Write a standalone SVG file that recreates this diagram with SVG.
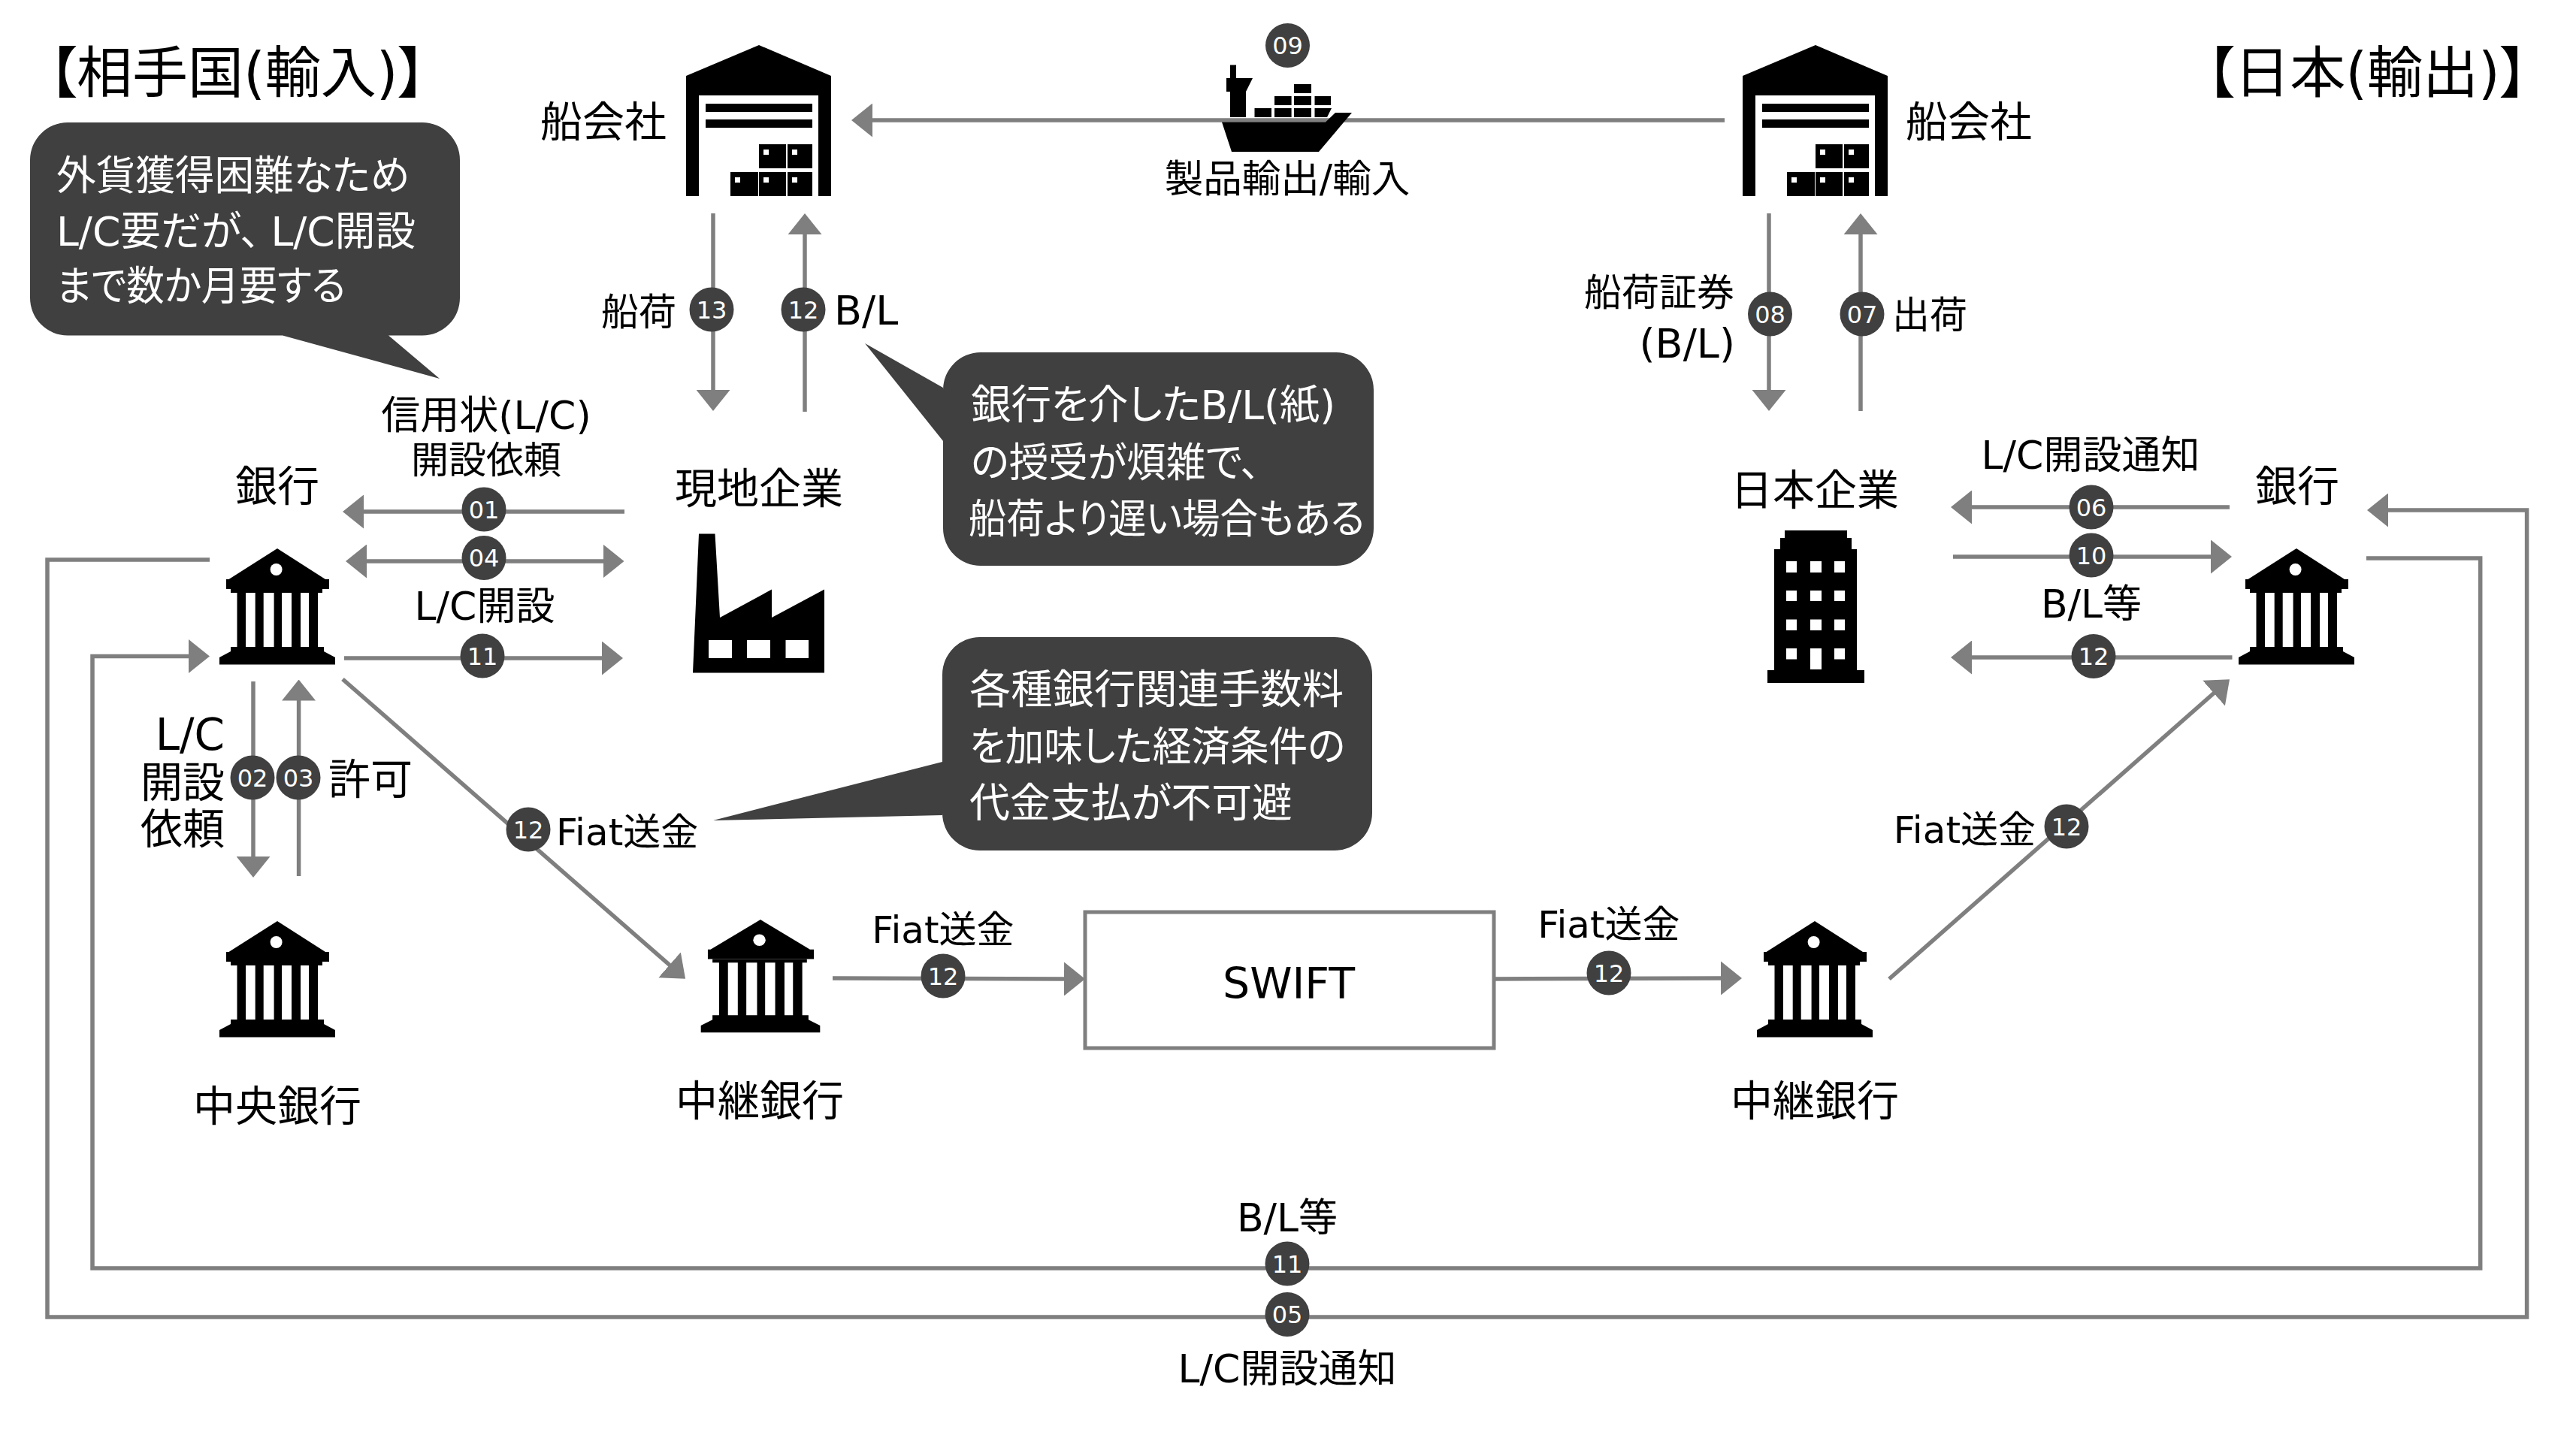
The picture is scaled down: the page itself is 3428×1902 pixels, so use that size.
<svg xmlns="http://www.w3.org/2000/svg" xmlns:xlink="http://www.w3.org/1999/xlink" width="3428" height="1902" viewBox="0 0 3428 1902">
<style>
text{font-family:"DejaVu Sans","Noto Sans CJK JP",sans-serif;font-feature-settings:"palt";fill:#000}
.t50{font-size:50px}.t52{font-size:52px}.t515{font-size:51.5px}.t54{font-size:54px}.t56{font-size:56px}.t57{font-size:57px}.t58{font-size:58px}.t74{font-size:74px}
.m{text-anchor:middle}.e{text-anchor:end}
.w{fill:#fff;font-size:54px}
.b{fill:#404040}
.n{fill:#fff;font-size:32px;text-anchor:middle}
.c{fill:none;stroke:#7f7f7f;stroke-width:5.5;marker-end:url(#arr)}
.cb{fill:#404040}
.h{fill:#fff}
</style>
<defs>
<marker id="arr" markerUnits="userSpaceOnUse" markerWidth="28" markerHeight="45" viewBox="0 0 28 45" refX="4" refY="22.5" orient="auto-start-reverse"><path d="M0 0L28 22.5L0 45Z" fill="#7f7f7f"/></marker>
<g id="bank">
<path d="M0 0L64 41H69V54H-68V41H-64.5Z"/>
<circle class="h" cx="-1.4" cy="28" r="8"/>
<path d="M-62 54H60V59H-62ZM-53.5 59H-42V131H-53.5ZM-29.3 59H-18.3V131H-29.3ZM-4.4 59H6V131H-4.4ZM19 59H31V131H19ZM42 59H54V131H42ZM-62 131H62V137L77 145V154.5H-77V145L-62 137Z"/>
</g>
<g id="wh">
<path d="M97 0L193 41V201H176V67H17V201H0V41Z"/>
<path d="M26 78H168V89H26ZM26 99H168V110H26ZM97 132H133V164H97ZM135 132H168V164H135ZM59 169H96V201H59ZM97 169H133V201H97ZM135 169H168V201H135Z"/>
<path class="h" d="M103 139h7v7h-7ZM141 139h7v7h-7ZM65 176h7v7h-7ZM103 176h7v7h-7ZM141 176h7v7h-7Z"/>
</g>
</defs>
<rect width="3428" height="1902" fill="#fff"/>

<g id="connectors">
<path class="c" d="M2295 160H1157"/>
<path class="c" d="M949 284V523"/>
<path class="c" d="M1071 548V308"/>
<path class="c" d="M2354 284V523"/>
<path class="c" d="M2476 547V308"/>
<path class="c" d="M831 681H480"/>
<path class="c" d="M484 747H806.5" marker-start="url(#arr)"/>
<path class="c" d="M458 876H805"/>
<path class="c" d="M279 745H63V1753H3362.6V679H3174"/>
<path class="c" d="M3149 743H3300.7V1688H123V873.5H255"/>
<path class="c" d="M337 907V1144"/>
<path class="c" d="M397.6 1166V928.5"/>
<path class="c" d="M456 904L894 1287"/>
<path class="c" d="M2514 1303L2949 920"/>
<path class="c" d="M1108 1302L1420 1303"/>
<path class="c" d="M1988 1303L2294 1302"/>
<path class="c" d="M2967 675H2620"/>
<path class="c" d="M2599 741H2946"/>
<path class="c" d="M2970.5 875H2620"/>
</g>

<g id="node-wh-left"><use href="#wh" x="913" y="60"/><text class="t56" x="719" y="182">船会社</text></g>
<g id="node-wh-right"><use href="#wh" x="2319" y="60"/><text class="t56" x="2536" y="182">船会社</text></g>

<g id="node-ship">
<path d="M1637 104V86.5H1645V104H1667L1658 122V156H1637V122H1632V104Z"/>
<path d="M1626 162.5H1764L1777 150H1799L1755 202H1639Z"/>
<path d="M1669.5 144H1692V156H1669.5ZM1696 144H1718.6V156H1696ZM1722 144H1745V156H1722ZM1749.5 144H1772L1766 156H1749.5ZM1696 128H1718.6V140H1696ZM1722 128H1745V140H1722ZM1749.5 128H1771V140H1749.5ZM1722 112H1745V124H1722Z"/>
<text class="t515 m" x="1713" y="256">製品輸出/輸入</text>
</g>

<g id="node-bank-left"><use href="#bank" x="369" y="730"/><text class="t56 m" x="369" y="667">銀行</text></g>
<g id="node-central"><use href="#bank" x="369" y="1226"/><text class="t56 m" x="369" y="1492">中央銀行</text></g>
<g id="node-relay-left"><use href="#bank" transform="translate(1012 1224) scale(1.03 .972)"/><text class="t56 m" x="1011" y="1485">中継銀行</text></g>
<g id="node-relay-right"><use href="#bank" x="2415" y="1226"/><text class="t56 m" x="2415" y="1485">中継銀行</text></g>
<g id="node-bank-right"><use href="#bank" x="3056" y="730"/><text class="t56 m" x="3057" y="667">銀行</text></g>

<g id="node-factory">
<path d="M930 710.6H951.5L958 822L1027 784.5V822L1097 784.5V895.5H922Z"/>
<path class="h" d="M943 852H974V876H943ZM994 852H1025V876H994ZM1045.5 852H1076V876H1045.5Z"/>
<text class="t56 m" x="1010" y="670">現地企業</text>
</g>

<g id="node-building">
<path d="M2375 706H2458V716H2464V731H2471V892H2481V909H2352V892H2361V731H2369V716H2375Z"/>
<path class="h" d="M2377 747h14v15h-14ZM2409 747h15v15h-15ZM2441 747h14v15h-14ZM2377 786h14v14h-14ZM2409 786h15v14h-15ZM2441 786h14v14h-14ZM2377 824.5h14v14.5h-14ZM2409 824.5h15v14.5h-15ZM2441 824.5h14v14.5h-14ZM2377 863h14v14.5h-14ZM2409 863h15v28h-15ZM2441 863h14v14.5h-14Z"/>
<text class="t56 m" x="2415" y="672">日本企業</text>
</g>

<g id="node-swift">
<rect x="1444" y="1214" width="544" height="181" fill="#fff" stroke="#7f7f7f" stroke-width="5"/>
<text class="t57 m" x="1715" y="1329">SWIFT</text>
</g>

<g id="callout-1">
<path class="b" d="M90 163H562A50 50 0 0 1 612 213V396.500A50 50 0 0 1 562 446.500H517L585 504L376 446.500H90A50 50 0 0 1 40 396.500V213A50 50 0 0 1 90 163Z"/>
<text class="w" x="75" y="253" textLength="470" lengthAdjust="spacingAndGlyphs">外貨獲得困難なため</text>
<text class="w" x="75" y="327" textLength="478" lengthAdjust="spacingAndGlyphs">L/C要だが、<tspan dx="14">L/C開設</tspan></text>
<text class="w" x="75" y="400" textLength="385" lengthAdjust="spacingAndGlyphs">まで数か月要する</text>
</g>
<g id="callout-2">
<path class="b" d="M1305 469H1778A50 50 0 0 1 1828 519V703A50 50 0 0 1 1778 753H1305A50 50 0 0 1 1255 703V587L1151 457L1255 516V519A50 50 0 0 1 1305 469Z"/>
<text class="w" x="1292" y="558" textLength="485" lengthAdjust="spacingAndGlyphs">銀行を介したB/L(紙)</text>
<text class="w" x="1292" y="635" textLength="385" lengthAdjust="spacingAndGlyphs">の授受が煩雑で、</text>
<text class="w" x="1289" y="710" textLength="527" lengthAdjust="spacingAndGlyphs">船荷より遅い場合もある</text>
</g>
<g id="callout-3">
<path class="b" d="M1304 848H1776A50 50 0 0 1 1826 898V1082A50 50 0 0 1 1776 1132H1304A50 50 0 0 1 1254 1082V1085L949 1092L1254 1014V898A50 50 0 0 1 1304 848Z"/>
<text class="w" x="1290" y="937" textLength="498" lengthAdjust="spacingAndGlyphs">各種銀行関連手数料</text>
<text class="w" x="1290" y="1013" textLength="500" lengthAdjust="spacingAndGlyphs">を加味した経済条件の</text>
<text class="w" x="1290" y="1088" textLength="430" lengthAdjust="spacingAndGlyphs">代金支払が不可避</text>
</g>

<g id="labels">
<text class="t74" x="65" y="123">【相手国(輸入)】</text>
<text class="t74 e" x="3364" y="123">【日本(輸出)】</text>
<text class="t50" x="800" y="433">船荷</text>
<text class="t54" x="1110" y="432">B/L</text>
<text class="t50 e" x="2308" y="407">船荷証券</text>
<text class="t54 e" x="2309" y="476">(B/L)</text>
<text class="t50" x="2518" y="437">出荷</text>
<text class="t52 m" x="647" y="571">信用状(L/C)</text>
<text class="t50 m" x="647" y="630">開設依頼</text>
<text class="t52 m" x="645" y="825">L/C開設</text>
<text class="t58 e" x="299" y="998">L/C</text>
<text class="t56 e" x="299" y="1061">開設</text>
<text class="t56 e" x="299" y="1123">依頼</text>
<text class="t56" x="437" y="1057">許可</text>
<text class="t50" x="740" y="1125">Fiat送金</text>
<text class="t50 e" x="2709" y="1122">Fiat送金</text>
<text class="t50 m" x="1255" y="1255">Fiat送金</text>
<text class="t50 m" x="2141" y="1248">Fiat送金</text>
<text class="t52 m" x="2782" y="624">L/C開設通知</text>
<text class="t52 m" x="2783" y="822">B/L等</text>
<text class="t52 m" x="1713" y="1639">B/L等</text>
<text class="t52 m" x="1713" y="1840">L/C開設通知</text>
</g>

<g id="badges">
<g><circle class="cb" cx="1713.500" cy="60.500" r="29.500"/><text class="n" x="1713.500" y="72">09</text></g>
<g><circle class="cb" cx="947" cy="412" r="29.500"/><text class="n" x="947" y="423.500">13</text></g>
<g><circle class="cb" cx="1069" cy="412" r="29.500"/><text class="n" x="1069" y="423.500">12</text></g>
<g><circle class="cb" cx="2355.500" cy="418" r="29.500"/><text class="n" x="2355.500" y="429.500">08</text></g>
<g><circle class="cb" cx="2478" cy="418" r="29.500"/><text class="n" x="2478" y="429.500">07</text></g>
<g><circle class="cb" cx="644" cy="678" r="29.500"/><text class="n" x="644" y="689.500">01</text></g>
<g><circle class="cb" cx="644" cy="742.500" r="29.500"/><text class="n" x="644" y="754">04</text></g>
<g><circle class="cb" cx="642" cy="873" r="29.500"/><text class="n" x="642" y="884.500">11</text></g>
<g><circle class="cb" cx="336" cy="1035" r="29.500"/><text class="n" x="336" y="1046.500">02</text></g>
<g><circle class="cb" cx="397" cy="1035" r="29.500"/><text class="n" x="397" y="1046.500">03</text></g>
<g><circle class="cb" cx="703" cy="1104" r="29.500"/><text class="n" x="703" y="1115.500">12</text></g>
<g><circle class="cb" cx="2750" cy="1100" r="29.500"/><text class="n" x="2750" y="1111.500">12</text></g>
<g><circle class="cb" cx="1255" cy="1299" r="29.500"/><text class="n" x="1255" y="1310.500">12</text></g>
<g><circle class="cb" cx="2141" cy="1295" r="29.500"/><text class="n" x="2141" y="1306.500">12</text></g>
<g><circle class="cb" cx="2783" cy="675" r="29.500"/><text class="n" x="2783" y="686.500">06</text></g>
<g><circle class="cb" cx="2783" cy="739" r="29.500"/><text class="n" x="2783" y="750.500">10</text></g>
<g><circle class="cb" cx="2786" cy="873.500" r="29.500"/><text class="n" x="2786" y="885">12</text></g>
<g><circle class="cb" cx="1713" cy="1682" r="29.500"/><text class="n" x="1713" y="1693.500">11</text></g>
<g><circle class="cb" cx="1713" cy="1749.500" r="29.500"/><text class="n" x="1713" y="1761">05</text></g>
</g>
</svg>
